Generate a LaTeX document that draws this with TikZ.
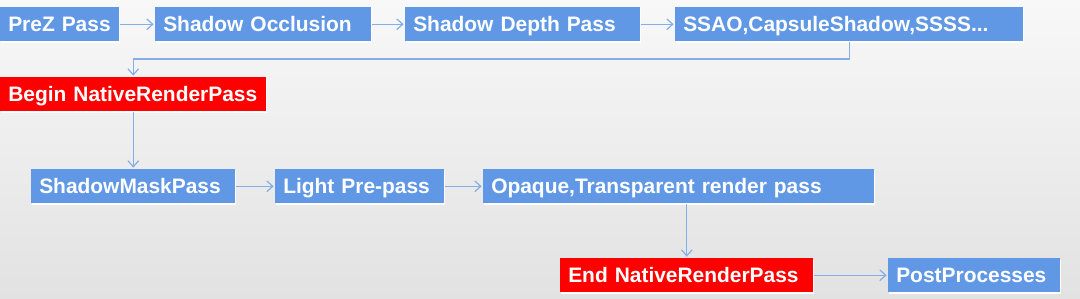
\documentclass[tikz,border=0pt]{standalone}
\usepackage{fontspec}
\setmainfont{Liberation Sans}
\usetikzlibrary{arrows.meta,positioning,calc,shadows}
\definecolor{cPass}{HTML}{6198E6}
\definecolor{cNat} {HTML}{FF0000}
\definecolor{cLink}{HTML}{86AEE6}
\definecolor{cBgT} {HTML}{F8F8F8}
\definecolor{cBgB} {HTML}{E2E2E2}
\tikzset{
  box/.style   ={anchor=north west,inner xsep=6pt,inner ysep=0pt,align=left,
                 minimum height=25.5pt,text height=11.3pt,text depth=0pt,text=white,
                 font=\fontsize{15.7}{18}\selectfont\bfseries,
                 drop shadow={shadow xshift=0.75pt,shadow yshift=-1.5pt,
                 fill=white,opacity=1}},
  pass/.style  ={box,fill=cPass},
  native/.style={box,fill=cNat},
  link/.style  ={-{Straight Barb[length=4.5pt,width=8pt]},draw=cLink,line width=0.9pt,
                 shorten >=1pt},
}

\begin{document}
\begin{tikzpicture}[x=0.75pt,y=-0.75pt]
\shade[top color=cBgT,bottom color=cBgB] (0,0) rectangle (1080,298);
\useasboundingbox (0,0) rectangle (1080,298);

% ---- first row -----------------------------------------------------------
\node[pass,minimum width=89.25pt, text width=77.25pt]  (prez)  at (0,7)   {PreZ Pass};
\node[pass,minimum width=162pt,   text width=150pt]    (occl)  at (155,7) {Shadow Occlusion};
\node[pass,minimum width=176.25pt,text width=164.25pt] (depth) at (405,7) {Shadow Depth Pass};
\node[pass,minimum width=261pt,   text width=249pt]    (ssao)  at (675,7) {SSAO,CapsuleShadow,SSSS...};

% ---- native render pass --------------------------------------------------
\node[native,minimum width=199.5pt,text width=187.5pt] (begin) at (0,77) {Begin NativeRenderPass};

% ---- second row ----------------------------------------------------------
\node[pass,minimum width=153pt,   text width=141pt]    (mask)   at (31,169)  {ShadowMaskPass};
\node[pass,minimum width=126.75pt,text width=114.75pt] (light)  at (275,169) {Light Pre-pass};
\node[pass,minimum width=293.25pt,text width=281.25pt] (opaque) at (483,169) {Opaque,Transparent render pass};

% ---- last row ------------------------------------------------------------
\node[native,minimum width=189.75pt,text width=177.75pt] (endrp) at (560,258) {End NativeRenderPass};
\node[pass,minimum width=129pt,     text width=117pt]    (post)  at (888,258) {PostProcesses};

% ---- connectors ----------------------------------------------------------
\coordinate (turn) at (0,59);
\foreach \a/\b in {prez/occl,occl/depth,depth/ssao,mask/light,light/opaque,endrp/post}
  {\draw[link] (\a.east) -- (\b.west);}
\draw[link] (ssao.south) -- (ssao.south |- turn) -- (begin.north |- turn) -- (begin.north);
\draw[link] (begin.south) -- (mask.north);
\draw[link] (endrp.north |- opaque.south) -- (endrp.north);
\end{tikzpicture}
\end{document}
